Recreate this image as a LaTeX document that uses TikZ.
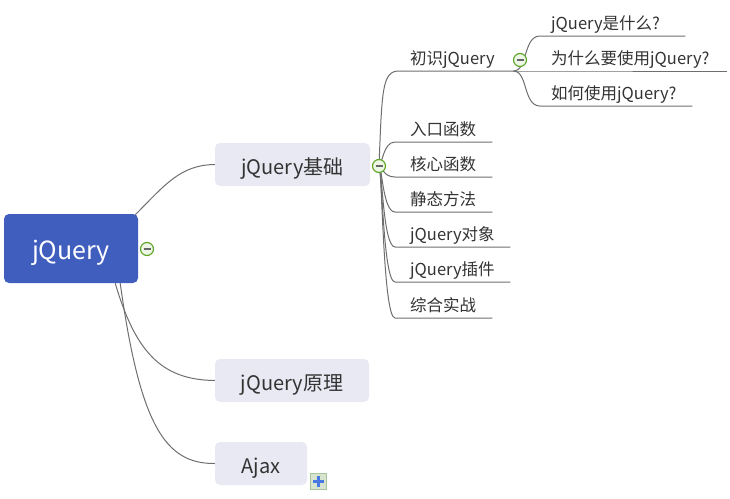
\documentclass[tikz,border=0pt]{standalone}
\usepackage{fontspec}
\setmainfont{Noto Sans CJK SC}
\definecolor{rootblue}{HTML}{405EBE}
\definecolor{branchfill}{HTML}{E9E9F3}
\definecolor{linegray}{HTML}{6E6E6E}
\definecolor{txt}{HTML}{333333}
\definecolor{mgreen}{HTML}{62A82E}
\definecolor{mfill}{HTML}{EEF6E6}
\definecolor{pfill}{HTML}{D6E4D0}
\definecolor{pborder}{HTML}{A8C59C}
\definecolor{pblue}{HTML}{4A78E2}
\begin{document}
\begin{tikzpicture}[x=1pt,y=-1pt,
  rootbox/.style={fill=rootblue, rounded corners=5pt, text=white, font=\fontsize{25}{29}\selectfont, minimum height=69pt, inner sep=0pt, text height=21pt, text depth=0pt},
  branchbox/.style={fill=branchfill, rounded corners=5pt, text=txt, font=\fontsize{20}{24}\selectfont, minimum height=43pt, inner sep=0pt, text height=19pt, text depth=0pt},
  leaf/.style={text width=#1, align=left, inner xsep=11pt, inner ysep=3pt, text height=12pt, text depth=3pt, anchor=south west, text=txt, font=\fontsize{16.5}{19}\selectfont},
  conn/.style={draw=linegray, line width=1pt},
  minus/.style={circle, draw=mgreen, fill=mfill, line width=1.2pt, minimum size=13pt, inner sep=0pt,
     path picture={\draw[line width=1.6pt, draw=gray!80!black] ([xshift=-3.5pt]path picture bounding box.center) -- ([xshift=3.5pt]path picture bounding box.center);}},
  plusbox/.style={draw=pborder, fill=pfill, line width=0.8pt, minimum size=16pt, inner sep=0pt,
     path picture={\draw[line width=3pt, draw=pblue] ([xshift=-5.5pt]path picture bounding box.center) -- ([xshift=5.5pt]path picture bounding box.center) ([yshift=-5.5pt]path picture bounding box.center) -- ([yshift=5.5pt]path picture bounding box.center);}}
]
\useasboundingbox (0,0) rectangle (730,498);

% nodes
\node[rootbox, minimum width=134pt] (root) at (71,248.5) {jQuery};
\node[branchbox, minimum width=155pt] (b1) at (292.5,164.5) {jQuery基础};
\node[branchbox, minimum width=154pt] (b2) at (292,380.5) {jQuery原理};
\node[branchbox, minimum width=92pt] (b3) at (261,463.5) {Ajax};

\node[leaf=92pt] (l0) at (399,71) {初识jQuery};
\node[leaf=71pt] (l1) at (399,142) {入口函数};
\node[leaf=71pt] (l2) at (399,177) {核心函数};
\node[leaf=71pt] (l3) at (399,212) {静态方法};
\node[leaf=89pt] (l4) at (399,247) {jQuery对象};
\node[leaf=89pt] (l5) at (399,282) {jQuery插件};
\node[leaf=71pt] (l6) at (399,318) {综合实战};

\node[leaf=123pt] (q1) at (540,36) {jQuery是什么?};
\node[leaf=165pt] (q2) at (540,71) {为什么要使用jQuery?};
\node[leaf=130pt] (q3) at (540,106) {如何使用jQuery?};

\coordinate (m1c) at (379,166);
\coordinate (m2c) at (520,60);

% root connectors
\draw[conn] (root.north east) ++(-3,1) .. controls (165,185) and (180,165) .. (b1.west);
\draw[conn] (root.south east) ++(-23,0) .. controls (135,350) and (160,380) .. (b2.west);
\draw[conn] (root.south east) ++(-18,0) .. controls (140,425) and (165,464) .. (b3.west);

% level 2 connectors
\draw[conn] (m1c) .. controls (382,90) and (382,71) .. (l0.south west) -- (l0.south east);
\foreach \n in {l1,l2,l3,l4,l5,l6}{
  \draw[conn] (m1c) .. controls (382,166) and (383,0|-\n.south west) .. ([xshift=-4pt]\n.south west) -- (\n.south east);
}

% level 3 connectors
\draw[conn] (l0.south east) .. controls (528,71) and (523,36) .. (q1.south west) -- (q1.south east);
\draw[conn] (l0.south east) -- (q2.south west) -- (q2.south east);
\draw[conn] (l0.south east) .. controls (528,71) and (523,106) .. (q3.south west) -- (q3.south east);

% toggles
\node[minus] (m0) at (147,249) {};
\node[minus] (m1) at (m1c) {};
\node[minus] (m2) at (m2c) {};
\node[plusbox] (p3) at (318.5,481.5) {};
\end{tikzpicture}
\end{document}
